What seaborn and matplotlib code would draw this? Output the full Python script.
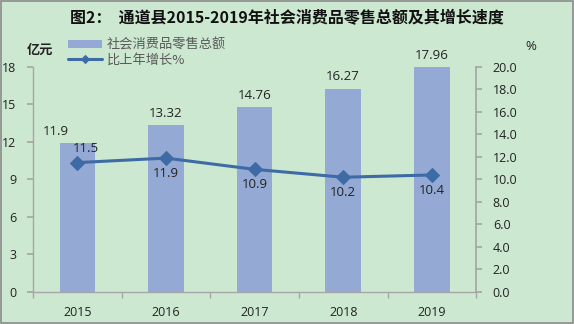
import matplotlib
matplotlib.use("Agg")
import matplotlib.pyplot as plt
import seaborn as sns
import pandas as pd
from matplotlib.patches import Rectangle

years = ["2015", "2016", "2017", "2018", "2019"]
sales = [11.9, 13.32, 14.76, 16.27, 17.96]
growth = [11.5, 11.9, 10.9, 10.2, 10.4]
left_ticks = [0, 3, 6, 9, 12, 15, 18]
right_ticks = [0, 2, 4, 6, 8, 10, 12, 14, 16, 18, 20]

sns.set_theme(style="white")
plt.rcParams['font.family'] = ['Noto Sans CJK SC', 'DejaVu Sans']

bg = "#CDE8D1"
bar_c = "#94A9D3"
line_c = "#3D6BA6"
num_font = ['Open Sans', 'DejaVu Sans']

df = pd.DataFrame({"year": years, "sales": sales, "growth": growth})

fig = plt.figure(figsize=(5.74, 3.24), dpi=100, facecolor=bg)
fig.patches.append(Rectangle((0.001, 0.002), 0.997, 0.995, transform=fig.transFigure,
                             fill=False, edgecolor="#8C8C8C", linewidth=1.2))
ax = fig.add_axes([0.0575, 0.0988, 0.772, 0.6945])
ax.set_facecolor(bg)
sns.barplot(data=df, x="year", y="sales", ax=ax, color=bar_c, width=0.4,
            saturation=1, label="社会消费品零售总额", linewidth=0, edgecolor=bar_c)
if ax.get_legend() is not None:
    ax.get_legend().remove()
ax.set_xlim(-0.5, 4.5)
ax.set_ylim(0, 18)
ax.set_yticks(left_ticks)
ax.set_yticklabels([str(t) for t in left_ticks], family=num_font)
ax.set_xlabel("")
ax.set_ylabel("")
ax.tick_params(axis='y', length=4, color="#A6A6A6", labelsize=9, labelcolor="#222222", pad=8, direction='out', left=True)
ax.set_xticks(range(5))
ax.set_xticklabels(years, family=num_font)
ax.tick_params(axis='x', length=0, labelsize=9, labelcolor="#222222", pad=10)
ax.set_xticks([i - 0.5 for i in range(6)], minor=True)
ax.tick_params(axis='x', which='minor', length=4, color="#A6A6A6", bottom=True)
for s in ["top", "right"]:
    ax.spines[s].set_visible(False)
for s in ["left", "bottom"]:
    ax.spines[s].set_color("#A6A6A6")
    ax.spines[s].set_linewidth(1.0)

ax2 = ax.twinx()
sns.lineplot(data=df, x="year", y="growth", ax=ax2, color=line_c, linewidth=2.2,
             marker="D", markersize=7, markeredgecolor=line_c, label="比上年增长%", legend=False)
if ax2.get_legend() is not None:
    ax2.get_legend().remove()
ax2.set_ylim(0, 20)
ax2.set_yticks(right_ticks)
ax2.set_yticklabels([f"{t:.1f}" for t in right_ticks], family=num_font)
ax2.set_ylabel("")
ax2.tick_params(axis='y', length=4, color="#A6A6A6", labelsize=9, labelcolor="#222222", pad=8, right=True)
for s in ["top", "left", "bottom"]:
    ax2.spines[s].set_visible(False)
ax2.spines["right"].set_color("#A6A6A6")

# bar labels
for i, v in enumerate(sales):
    dx = -0.24 if i == 0 else 0
    ax.text(i + dx, v + 0.45, f"{v:g}", ha="center", va="bottom",
            fontsize=9.5, color="#222222", family=num_font)
# line labels
for i, v in enumerate(growth):
    if i == 0:
        ax2.text(i + 0.1, v + 0.7, f"{v:.1f}", ha="center", va="bottom", fontsize=9.5,
                 color="#222222", family=num_font)
    else:
        ax2.text(i, v - 0.8, f"{v:.1f}", ha="center", va="top", fontsize=9.5,
                 color="#222222", family=num_font)

fig.text(0.047, 0.845, "亿元", fontsize=9.5, fontweight="bold", ha="left", va="center", color="#222222")
fig.text(0.915, 0.855, "%", fontsize=9.5, ha="left", va="center", color="#222222", family=num_font)
fig.text(0.5, 0.945, "图2：  通道县2015-2019年社会消费品零售总额及其增长速度", ha="center", va="center",
         fontsize=11.5, fontweight="bold", color="#111111")

h1, l1 = ax.get_legend_handles_labels()
h2, l2 = ax2.get_legend_handles_labels()
leg = fig.legend(h1 + h2, l1 + l2, loc="upper left", bbox_to_anchor=(0.105, 0.905), frameon=False,
                 fontsize=9.5, labelcolor="#595959", handlelength=2.6, handleheight=0.6,
                 labelspacing=0.15, borderpad=0.1, handletextpad=0.3, markerscale=0.6)

fig.savefig("out.png", dpi=100, facecolor=bg)
